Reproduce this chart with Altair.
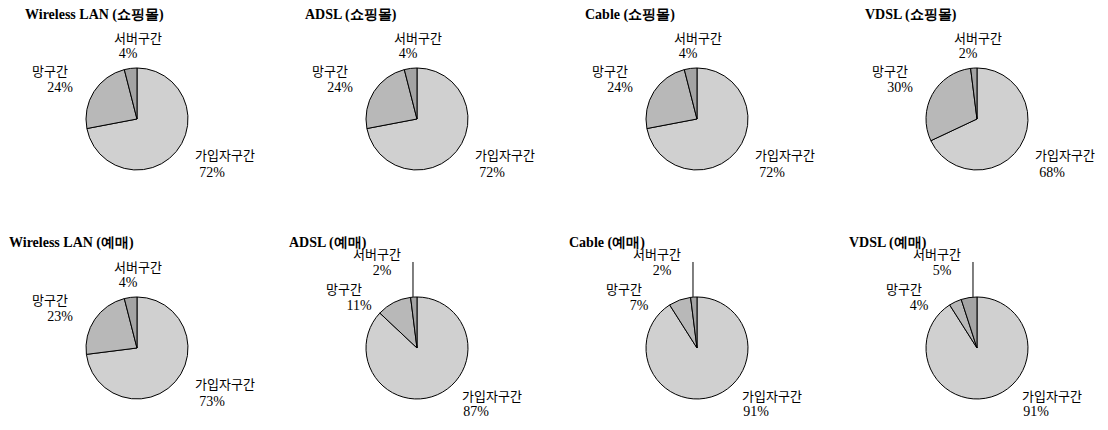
import altair as alt
import pandas as pd

# ---- data ----
charts = [
    "Wireless LAN (쇼핑몰)", "ADSL (쇼핑몰)", "Cable (쇼핑몰)", "VDSL (쇼핑몰)",
    "Wireless LAN (예매)", "ADSL (예매)", "Cable (예매)", "VDSL (예매)",
]
segments = ["가입자구간", "망구간", "서버구간"]
subscriber = [72, 72, 72, 68, 73, 87, 91, 91]
network = [24, 24, 24, 30, 23, 11, 7, 4]
server = [4, 4, 4, 2, 4, 2, 2, 5]
leader_charts = ["ADSL (예매)", "Cable (예매)", "VDSL (예매)"]

seg_colors = ["#d0d0d0", "#b8b8b8", "#a4a4a4"]

rows = []
for i, name in enumerate(charts):
    for k, (seg, vals) in enumerate(zip(segments, [subscriber, network, server])):
        rows.append({
            "chart": name, "col": i % 4, "row": i // 4,
            "segment": seg, "order": k, "value": vals[i],
            "style": "leader" if name in leader_charts else "standard",
        })
df = pd.DataFrame(rows)
titles = pd.DataFrame({
    "chart": charts,
    "col": [i % 4 for i in range(len(charts))],
    "row": [i // 4 for i in range(len(charts))],
})

W, H = 1092, 414
X = alt.X("col:Q", scale=alt.Scale(domain=[-0.4607, 3.4393], nice=False, zero=False), axis=None)
Y = alt.Y("row:Q", scale=alt.Scale(domain=[-0.4847, 1.3232], range=[0, H], nice=False, zero=False), axis=None)

base = alt.Chart(df)

pie = base.transform_stack(
    stack="value", groupby=["chart"], as_=["t0", "t1"],
    sort=[alt.SortField("order", order="ascending")],
).mark_arc(radius=51, stroke="black", strokeWidth=1).encode(
    x=X, y=Y,
    theta=alt.Theta("t0:Q", scale=alt.Scale(domain=[0, 100], range=[0, 6.283185307])),
    theta2="t1:Q",
    color=alt.Color("segment:N", scale=alt.Scale(domain=segments, range=seg_colors), legend=None),
)

KFONT = "Noto Sans CJK KR"
NFONT = "Liberation Serif"

offsets = {
    "standard": {
        "서버구간": ((1, -80), (-9, -65)),
        "망구간": ((-87, -47), (-77, -31)),
        "가입자구간": ((88, 37), (75, 54)),
    },
    "leader": {
        "서버구간": ((-40, -93), (-35, -77)),
        "망구간": ((-73, -58), (-58, -42)),
        "가입자구간": ((75, 49), (59, 64)),
    },
}

layers = [pie]
for style, segmap in offsets.items():
    for seg, ((ndx, ndy), (pdx, pdy)) in segmap.items():
        sub = base.transform_filter(
            f"datum.style == '{style}' && datum.segment == '{seg}'"
        ).transform_calculate(pct="datum.value + '%'")
        layers.append(sub.mark_text(
            dx=ndx, dy=ndy, font=KFONT, fontSize=13, align="center", baseline="middle", color="black"
        ).encode(x=X, y=Y, text="segment:N"))
        layers.append(sub.mark_text(
            dx=pdx, dy=pdy, font=NFONT, fontSize=14, align="center", baseline="middle", color="black"
        ).encode(x=X, y=Y, text="pct:N"))

# leader lines for the server slice in the crowded charts
leader = base.transform_filter(
    "datum.style == 'leader' && datum.segment == '서버구간'"
).mark_rule(color="black", strokeWidth=1, xOffset=-4, x2Offset=-4, yOffset=-86, y2Offset=-51).encode(
    x=X, y=Y, y2=alt.Y2("row:Q")
)
layers.append(leader)

tbase = alt.Chart(titles)
for r, (tdx, tdy) in enumerate([(-112, -104), (-128, -105)]):
    layers.append(tbase.transform_filter(f"datum.row == {r}").mark_text(
        dx=tdx, dy=tdy, font=NFONT, fontWeight="bold", fontSize=14,
        align="left", baseline="middle", color="black"
    ).encode(x=X, y=Y, text="chart:N"))

chart = alt.layer(*layers).properties(
    width=W, height=H, padding=0,
    autosize=alt.AutoSizeParams(type="none"),
).configure_view(strokeWidth=0)

chart.save("out.html", embed_options={"renderer": "svg", "actions": False})
